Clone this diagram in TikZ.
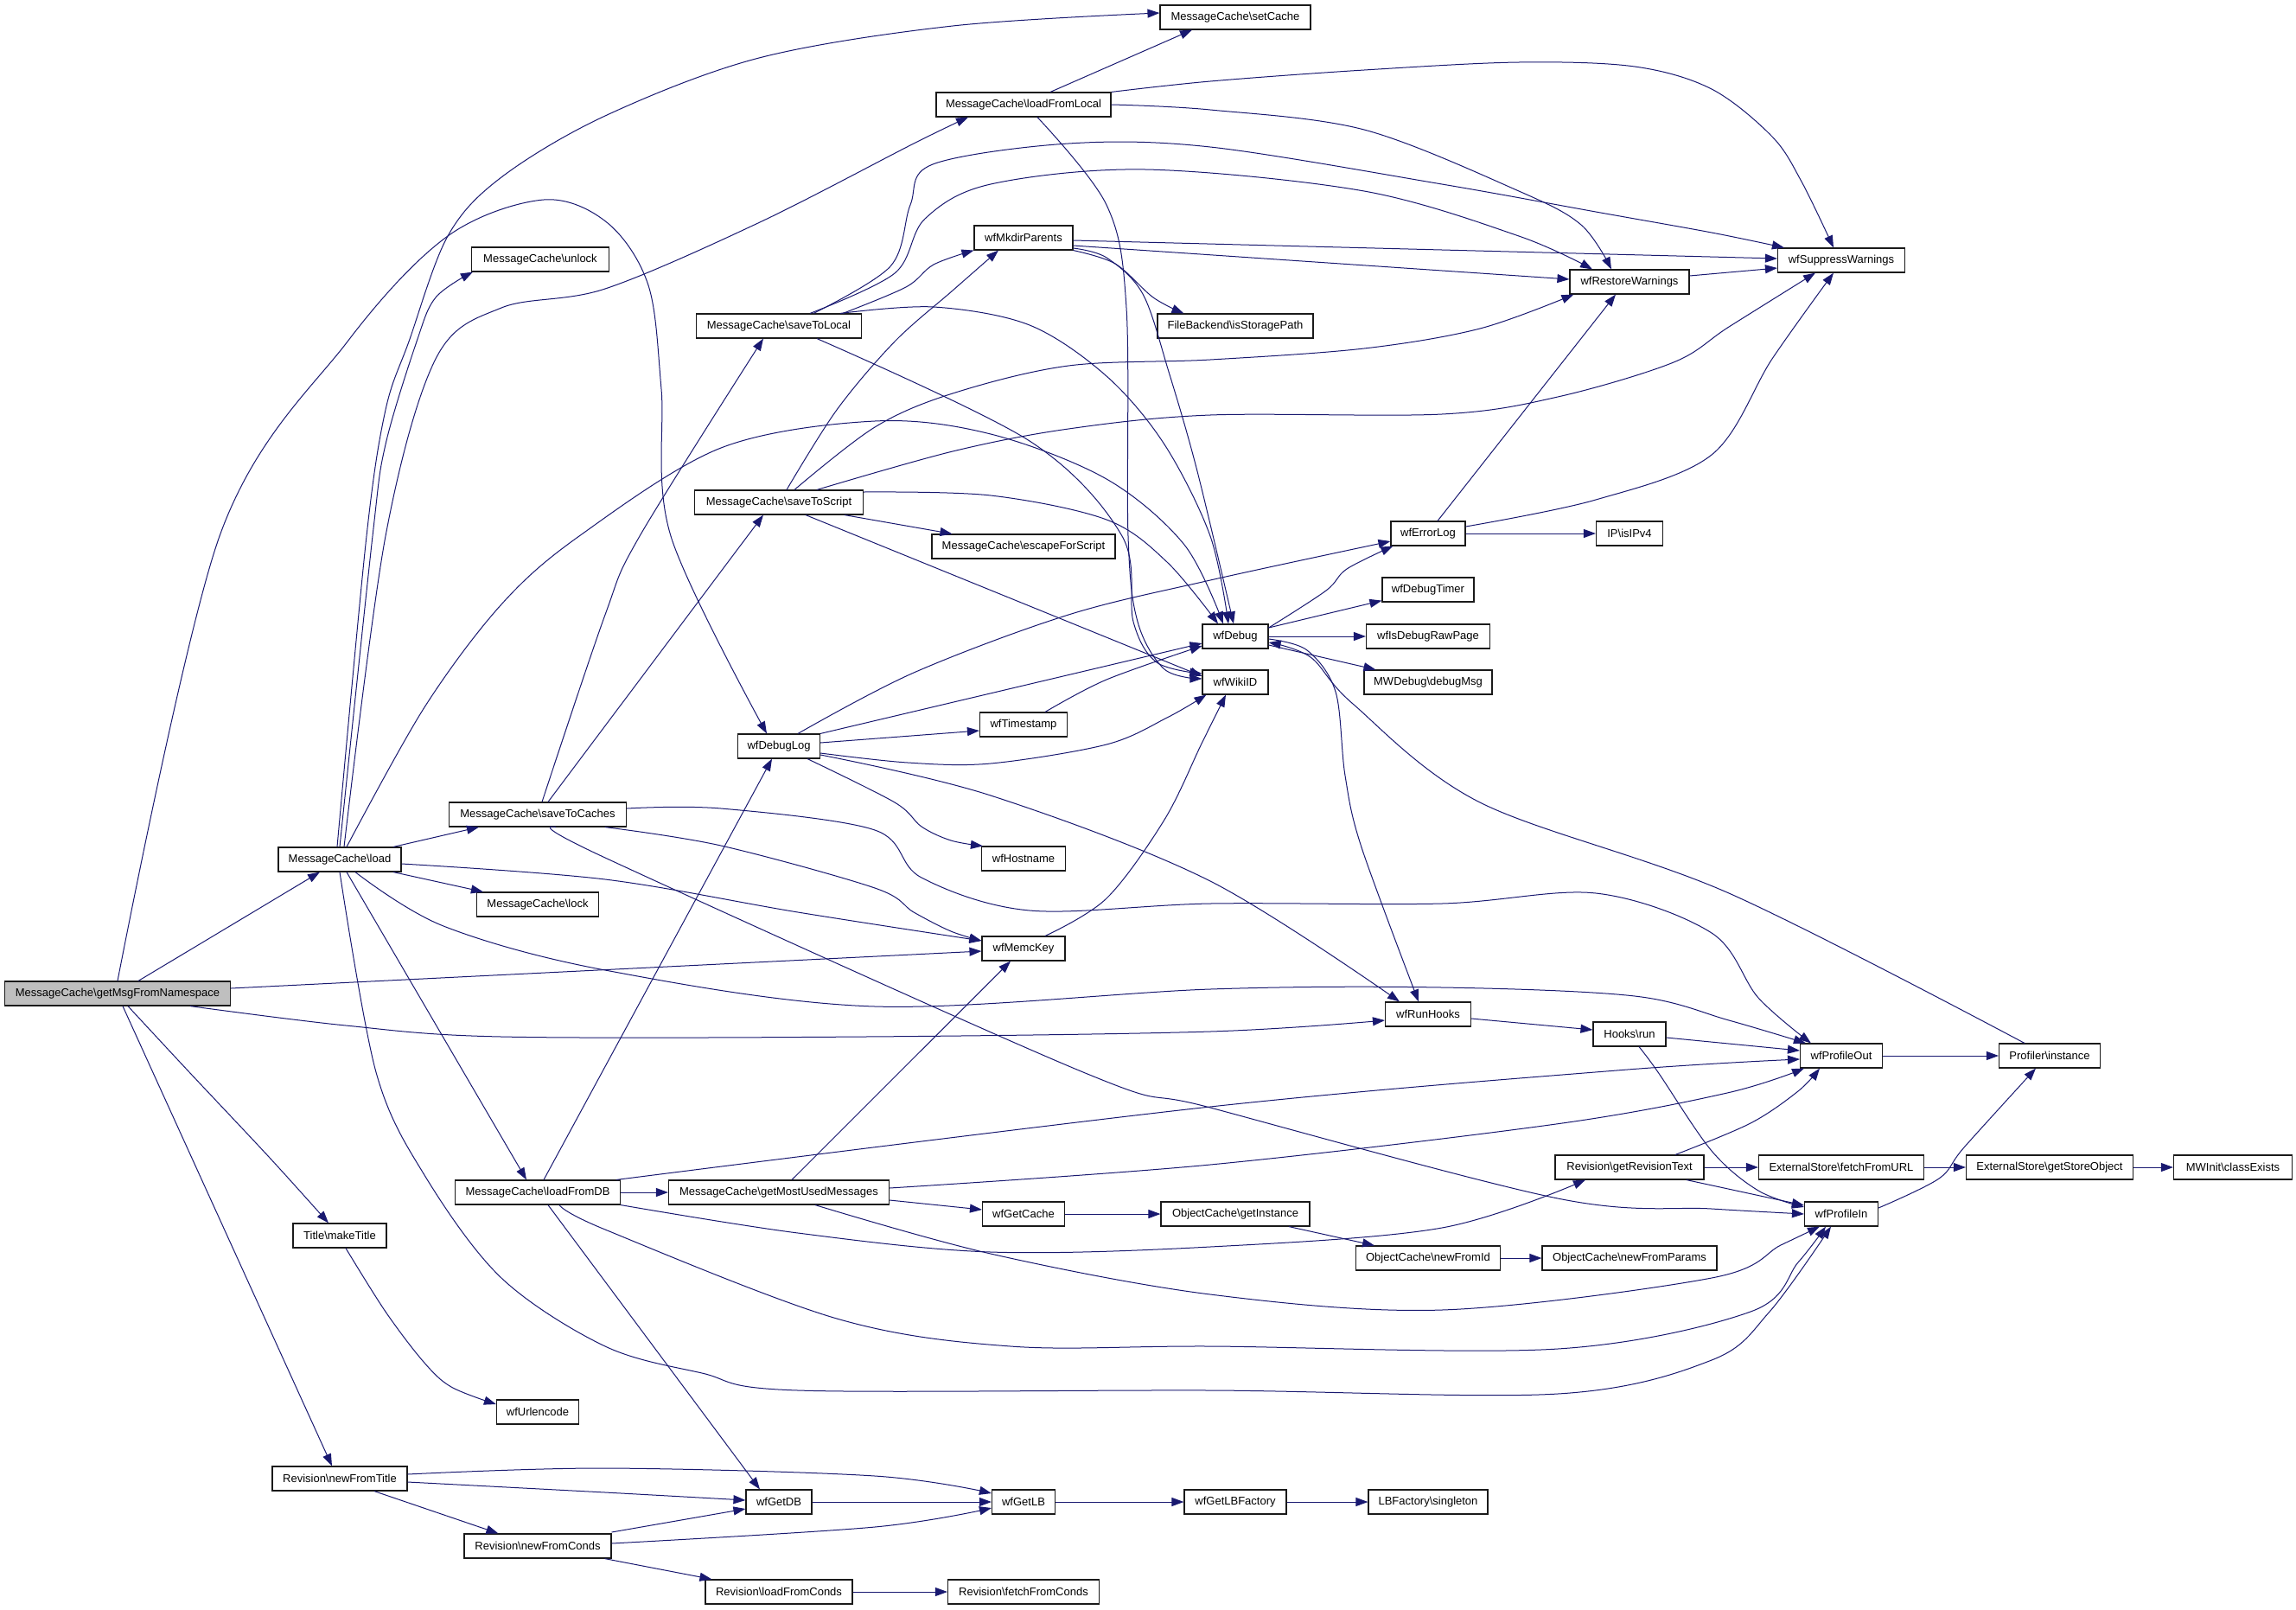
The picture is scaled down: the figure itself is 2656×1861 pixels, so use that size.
\documentclass[tikz,border=0pt]{standalone}
\usepackage{fontspec}
\setmainfont{Liberation Sans}
\usetikzlibrary{arrows.meta}
\definecolor{edgec}{HTML}{191970}
\definecolor{boxc}{HTML}{1A1A1A}
\begin{document}
\begin{tikzpicture}[x=1pt,y=-1pt,
 nd/.style={draw=boxc,line width=1.15pt,minimum height=28pt,inner sep=0pt,fill=white,font=\fontsize{13}{15}\selectfont},
 cg/.style={draw=edgec,line width=1pt,-{Triangle[length=14pt,width=10pt]}},
 sm/.style={smooth,tension=0.55}]
\useasboundingbox (0,0) rectangle (2656,1861);
% nodes
\node[nd,minimum width=261pt,fill=gray!50] (G) at (136,1149) {MessageCache\textbackslash getMsgFromNamespace};
\node[nd,minimum width=142pt] (L) at (393,994) {MessageCache\textbackslash load};
\node[nd,minimum width=159pt] (UL) at (625,300) {MessageCache\textbackslash unlock};
\node[nd,minimum width=205pt] (SC) at (622,942) {MessageCache\textbackslash saveToCaches};
\node[nd,minimum width=141pt] (LK) at (622,1046) {MessageCache\textbackslash lock};
\node[nd,minimum width=191pt] (DB) at (622,1379) {MessageCache\textbackslash loadFromDB};
\node[nd,minimum width=108pt] (MT) at (393,1429) {Title\textbackslash makeTitle};
\node[nd,minimum width=95pt] (UE) at (622,1633) {wfUrlencode};
\node[nd,minimum width=156pt] (NT) at (393,1710) {Revision\textbackslash newFromTitle};
\node[nd,minimum width=170pt] (NC) at (622,1788) {Revision\textbackslash newFromConds};
\node[nd,minimum width=202pt] (LFL) at (1184,121) {MessageCache\textbackslash loadFromLocal};
\node[nd,minimum width=174pt] (SET) at (1429,20) {MessageCache\textbackslash setCache};
\node[nd,minimum width=191pt] (STL) at (901,377) {MessageCache\textbackslash saveToLocal};
\node[nd,minimum width=195pt] (SS) at (901,581) {MessageCache\textbackslash saveToScript};
\node[nd,minimum width=95pt] (DL) at (901,863) {wfDebugLog};
\node[nd,minimum width=255pt] (GMU) at (901,1379) {MessageCache\textbackslash getMostUsedMessages};
\node[nd,minimum width=76pt] (GDB) at (901,1737) {wfGetDB};
\node[nd,minimum width=170pt] (LFC) at (901,1841) {Revision\textbackslash loadFromConds};
\node[nd,minimum width=114pt] (MK) at (1184,275) {wfMkdirParents};
\node[nd,minimum width=212pt] (ESC) at (1184,632) {MessageCache\textbackslash escapeForScript};
\node[nd,minimum width=101pt] (TS) at (1184,838) {wfTimestamp};
\node[nd,minimum width=97pt] (HN) at (1184,993) {wfHostname};
\node[nd,minimum width=96pt] (MC) at (1184,1097) {wfMemcKey};
\node[nd,minimum width=95pt] (GC) at (1184,1404) {wfGetCache};
\node[nd,minimum width=73pt] (GLB) at (1184,1737) {wfGetLB};
\node[nd,minimum width=175pt] (FFC) at (1184,1841) {Revision\textbackslash fetchFromConds};
\node[nd,minimum width=180pt] (ISP) at (1429,377) {FileBackend\textbackslash isStoragePath};
\node[nd,minimum width=76pt] (D) at (1429,736) {wfDebug};
\node[nd,minimum width=76pt] (WID) at (1429,789) {wfWikiID};
\node[nd,minimum width=172pt] (GI) at (1429,1404) {ObjectCache\textbackslash getInstance};
\node[nd,minimum width=118pt] (GLBF) at (1429,1737) {wfGetLBFactory};
\node[nd,minimum width=86pt] (EL) at (1652,617) {wfErrorLog};
\node[nd,minimum width=106pt] (DT) at (1652,682) {wfDebugTimer};
\node[nd,minimum width=143pt] (IDRP) at (1652,736) {wfIsDebugRawPage};
\node[nd,minimum width=148pt] (DM) at (1652,789) {MWDebug\textbackslash debugMsg};
\node[nd,minimum width=99pt] (RH) at (1652,1173) {wfRunHooks};
\node[nd,minimum width=167pt] (NFI) at (1652,1455) {ObjectCache\textbackslash newFromId};
\node[nd,minimum width=138pt] (SGL) at (1652,1737) {LBFactory\textbackslash singleton};
\node[nd,minimum width=138pt] (RW) at (1885,326) {wfRestoreWarnings};
\node[nd,minimum width=77pt] (IP) at (1885,617) {IP\textbackslash isIPv4};
\node[nd,minimum width=84pt] (HR) at (1885,1196) {Hooks\textbackslash run};
\node[nd,minimum width=172pt] (GRT) at (1885,1350) {Revision\textbackslash getRevisionText};
\node[nd,minimum width=202pt] (NFP) at (1885,1455) {ObjectCache\textbackslash newFromParams};
\node[nd,minimum width=147pt] (SW) at (2130,301) {wfSuppressWarnings};
\node[nd,minimum width=95pt] (PO) at (2130,1221) {wfProfileOut};
\node[nd,minimum width=191pt] (FFU) at (2130,1350) {ExternalStore\textbackslash fetchFromURL};
\node[nd,minimum width=85pt] (PI) at (2130,1404) {wfProfileIn};
\node[nd,minimum width=117pt] (PRI) at (2371,1221) {Profiler\textbackslash instance};
\node[nd,minimum width=193pt] (GSO) at (2371,1350) {ExternalStore\textbackslash getStoreObject};
\node[nd,minimum width=137pt] (CE) at (2583,1350) {MWInit\textbackslash classExists};
% edges from getMsgFromNamespace
\draw[cg] ([xshift=24pt]G.north) -- ([xshift=-23pt]L.south);
\draw[cg] plot[sm] coordinates {(G.north) (254,620) (402,395) (518,273) (629,231) (703,258) (750,330) (765,450) (776,620) ([xshift=-14pt]DL.north)};
\draw[cg] ([yshift=6pt]G.east) -- ([yshift=-3pt]MC.west);
\draw[cg] plot[sm] coordinates {([xshift=84pt]G.south) (400,1186) (580,1199) (1000,1199) (1400,1193) ([yshift=-7pt]RH.west)};
\draw[cg] plot[sm] coordinates {([xshift=12pt]G.south) (219,1240) (312,1339) ([xshift=-13pt]MT.north)};
\draw[cg] ([xshift=6pt]G.south) -- ([xshift=-9pt]NT.north);
% edges from load
\draw[cg] plot[sm] coordinates {([xshift=-3pt]L.north) (424,620) (446,474) (473,395) (518,273) (580,205) (700,134) (878,67) (1102,30) ([yshift=5pt]SET.west)};
\draw[cg] plot[sm] coordinates {(L.north) (431,620) (446,514) (482,395) (504,344) ([xshift=2pt]UL.south west)};
\draw[cg] plot[sm] coordinates {([xshift=5pt]L.north) (446,620) (504,415) (580,356) (700,334) (879,257) (1057,166) ([xshift=-64pt]LFL.south)};
\draw[cg] plot[sm] coordinates {([xshift=8pt]L.north) (491,818) (580,699) (670,620) (834,518) (1012,487) (1146,502) (1280,554) (1370,630) ([xshift=-14pt]D.north)};
\draw[cg] ([xshift=62pt]L.north) -- ([xshift=35pt]SC.south west);
\draw[cg] ([xshift=62pt]L.south) -- ([xshift=8pt]LK.north west);
\draw[cg] plot[sm] coordinates {([yshift=-5pt]L.east) (700,1017) (923,1055) ([yshift=9pt]MC.west)};
\draw[cg] plot[sm] coordinates {([xshift=18pt]L.south) (513,1071) (700,1122) (1012,1164) (1400,1144) (1668,1142) (1891,1152) (2000,1180) ([xshift=7pt]PO.north west)};
\draw[cg] ([xshift=8pt]L.south) -- ([xshift=-13pt]DB.north);
\draw[cg] plot[sm] coordinates {(L.south) (435,1240) (491,1359) (580,1478) (700,1557) (812,1588) (923,1608) (1400,1608) (1802,1612) (1980,1573) (2047,1517) ([xshift=-12pt]PI.south)};
% edges from saveToCaches
\draw[cg] plot[sm] coordinates {([xshift=5pt]SC.north) (700,711) (740,620) ([xshift=-18pt]STL.south)};
\draw[cg] ([xshift=12pt]SC.north) -- ([xshift=-18pt]SS.south);
\draw[cg] plot[sm] coordinates {([xshift=78pt]SC.south) (834,978) (1012,1027) (1057,1055) (1100,1077) ([yshift=9pt]MC.west)};
\draw[cg] plot[sm] coordinates {([yshift=7pt]SC.east) (834,935) (1012,960) (1066,1015) (1191,1053) (1400,1045) (1668,1045) (1846,1033) (1980,1079) (2034,1154) ([xshift=13pt]PO.north west)};
\draw[cg] plot[sm] coordinates {([xshift=21pt]SC.south) (700,992) (1253,1240) (1400,1281) (1802,1386) (1980,1398) (PI.west)};
% edges from saveToLocal
\draw[cg] plot[sm] coordinates {([xshift=74pt]STL.north) (1048,332) (1080,306) (MK.south west)};
\draw[cg] plot[sm] coordinates {([xshift=40pt]STL.north) (1030,308) (1053,237) (1079,190) (1236,166) (1400,170) (1668,213) (1846,245) (1980,269) ([xshift=8pt]SW.north west)};
\draw[cg] plot[sm] coordinates {([xshift=36pt]STL.north) (1035,316) (1070,253) (1146,213) (1325,196) (1578,221) (1757,273) ([xshift=-43pt]RW.north)};
\draw[cg] plot[sm] coordinates {([xshift=71pt]STL.north) (1080,355) (1191,376) (1280,435) (1347,514) (1400,620) ([xshift=-8pt]D.north)};
\draw[cg] plot[sm] coordinates {([xshift=44pt]STL.south) (1191,510) (1298,620) (1311,719) (1338,766) ([yshift=10pt]WID.west)};
% edges from loadFromLocal
\draw[cg] ([xshift=31pt]LFL.north) -- ([xshift=-50pt]SET.south);
\draw[cg] plot[sm] coordinates {(LFL.north east) (1400,94) (1578,81) (1757,72) (1891,77) (1980,103) (2050,158) (2084,210) ([xshift=-9pt]SW.north)};
\draw[cg] plot[sm] coordinates {(LFL.east) (1400,127) (1578,150) (1757,221) (1829,260) ([xshift=-21pt]RW.north)};
\draw[cg] plot[sm] coordinates {([xshift=16pt]LFL.south) (1280,237) (1303,356) (1305,620) (1316,719) (1347,774) ([yshift=4pt]WID.west)};
% edges from wfMkdirParents
\draw[cg] ([yshift=-3pt]MK.east) -- ([yshift=2pt]SW.west);
\draw[cg] ([yshift=-9pt]MK.east) -- ([yshift=3pt]RW.west);
\draw[cg] plot[sm] coordinates {(MK.south east) (1290,305) (1334,344) ([xshift=31pt]ISP.north west)};
\draw[cg] plot[sm] coordinates {([yshift=-12pt]MK.east) (1280,298) (1322,340) (1352,430) (1385,545) ([xshift=-2pt]D.north)};
% edges from saveToScript
\draw[cg] plot[sm] coordinates {([xshift=9pt]SS.north) (968,474) (1035,395) (1102,336) ([xshift=-29pt]MK.south)};
\draw[cg] plot[sm] coordinates {([xshift=18pt]SS.north) (1012,494) (1102,455) (1236,423) (1400,416) (1578,403) (1712,380) ([xshift=5pt]RW.south west)};
\draw[cg] plot[sm] coordinates {([xshift=44pt]SS.north) (1102,522) (1236,496) (1400,480) (1668,479) (1802,459) (1936,419) (2000,378) ([xshift=-30pt]SW.south)};
\draw[cg] ([xshift=76pt]SS.south) -- ([xshift=24pt]ESC.north west);
\draw[cg] plot[sm] coordinates {([yshift=12pt]SS.east) (1146,573) (1280,601) (1350,650) ([xshift=-20pt]D.north)};
\draw[cg] ([xshift=31pt]SS.south) -- ([yshift=7pt]WID.west);
% edges from wfDebugLog
\draw[cg] plot[sm] coordinates {([xshift=22pt]DL.north) (1057,778) (1236,711) (1400,671) ([yshift=-9pt]EL.west)};
\draw[cg] (DL.north east) -- ([yshift=-8pt]D.west);
\draw[cg] ([yshift=4pt]DL.east) -- ([yshift=-7pt]TS.west);
\draw[cg] plot[sm] coordinates {([yshift=-8pt]DL.east) (1050,882) (1146,883) (1280,861) (1350,830) ([xshift=5pt]WID.south west)};
\draw[cg] plot[sm] coordinates {([xshift=33pt]DL.south) (1035,928) (1066,956) (1100,972) ([xshift=2pt]HN.north west)};
\draw[cg] plot[sm] coordinates {([yshift=-10pt]DL.east) (1146,920) (1400,1019) ([xshift=-33pt]RH.north)};
\draw[cg] plot[sm] coordinates {([xshift=25pt]TS.north) (1280,786) ([yshift=-11pt]D.west)};
\draw[cg] plot[sm] coordinates {([xshift=25pt]MC.north) (1280,1039) (1347,948) (1390,860) ([xshift=-11pt]WID.south)};
% edges from wfDebug
\draw[cg] plot[sm] coordinates {([yshift=10pt]D.east) (1534,683) (1558,658) ([xshift=3pt]EL.south west)};
\draw[cg] ([yshift=10pt]D.east) -- ([yshift=2pt]DT.south west);
\draw[cg] (D.east) -- (IDRP.west);
\draw[cg] ([yshift=-10pt]D.east) -- ([xshift=14pt]DM.north west);
\draw[cg] plot[sm] coordinates {([yshift=-3pt]D.east) (1512,752) (1545,800) (1556,897) (1575,980) ([xshift=-11pt]RH.north)};
% wfErrorLog, wfRestoreWarnings
\draw[cg] ([xshift=11pt]EL.north) -- ([xshift=-16pt]RW.south);
\draw[cg] plot[sm] coordinates {([yshift=8pt]EL.east) (1846,578) (1980,526) (2050,415) ([xshift=-9pt]SW.south)};
\draw[cg] (EL.east) -- (IP.west);
\draw[cg] ([yshift=7pt]RW.east) -- ([yshift=-9pt]SW.west);
% hooks, profiling
\draw[cg] ([yshift=-5pt]RH.east) -- ([yshift=5pt]HR.west);
\draw[cg] ([yshift=-4pt]HR.east) -- ([yshift=6pt]PO.west);
\draw[cg] plot[sm] coordinates {([xshift=11pt]HR.south) (1918,1240) (1980,1331) (2034,1377) ([yshift=8pt]PI.west)};
\draw[cg] (PO.east) -- (PRI.west);
\draw[cg] plot[sm] coordinates {([yshift=7pt]PI.east) (2243,1363) (2272,1327) ([xshift=-16pt]PRI.south)};
\draw[cg] plot[sm] coordinates {([xshift=-29pt]PRI.north) (2000,1033) (1712,928) (1565,814) (1516,760) ([yshift=-7pt]D.east)};
% edges from loadFromDB
\draw[cg] (DB.east) -- (GMU.west);
\draw[cg] ([xshift=7pt]DB.north) -- ([xshift=-8pt]DL.south);
\draw[cg] ([xshift=12pt]DB.south) -- ([xshift=-22pt]GDB.north);
\draw[cg] plot[sm] coordinates {([xshift=-5pt]DB.north east) (1400,1280) (1870,1238) ([yshift=-4pt]PO.west)};
\draw[cg] plot[sm] coordinates {(DB.south east) (923,1426) (1146,1448) (1400,1442) (1668,1420) ([xshift=-51pt]GRT.south)};
\draw[cg] plot[sm] coordinates {([xshift=25pt]DB.south) (700,1422) (968,1525) (1169,1557) (1400,1557) (1802,1560) (2025,1517) (2080,1460) ([xshift=-18pt]PI.south)};
% edges from getMostUsedMessages
\draw[cg] ([xshift=15pt]GMU.north) -- ([xshift=-15pt]MC.south);
\draw[cg] plot[sm] coordinates {([yshift=5pt]GMU.east) (1400,1347) (1800,1300) (1998,1264) ([xshift=-43pt]PO.south)};
\draw[cg] ([yshift=-9pt]GMU.east) -- ([yshift=5pt]GC.west);
\draw[cg] plot[sm] coordinates {([xshift=42pt]GMU.south) (1146,1450) (1400,1497) (1668,1515) (1980,1478) (2060,1440) ([xshift=-25pt]PI.south)};
\draw[cg] (GC.east) -- (GI.west);
\draw[cg] ([xshift=62pt]GI.south) -- ([xshift=-62pt]NFI.north);
\draw[cg] (NFI.east) -- (NFP.west);
% getRevisionText
\draw[cg] (GRT.east) -- (FFU.west);
\draw[cg] plot[sm] coordinates {([xshift=53pt]GRT.north) (2025,1299) (2080,1262) ([xshift=-25pt]PO.south)};
\draw[cg] ([xshift=66pt]GRT.south) -- ([yshift=10pt]PI.west);
\draw[cg] (FFU.east) -- (GSO.west);
\draw[cg] (GSO.east) -- (CE.west);
% revision / LB
\draw[cg] plot[sm] coordinates {([yshift=5pt]NT.east) (700,1698) (1012,1707) ([yshift=10pt]GLB.west)};
\draw[cg] plot[sm] coordinates {([yshift=-4pt]NT.east) (700,1726) ([yshift=2pt]GDB.west)};
\draw[cg] ([xshift=40pt]NT.south) -- ([xshift=40pt]NC.north west);
\draw[cg] ([yshift=16pt]NC.east) -- ([yshift=-8pt]GDB.west);
\draw[cg] plot[sm] coordinates {([yshift=3pt]NC.east) (1012,1766) ([yshift=-7pt]GLB.west)};
\draw[cg] ([xshift=-8pt]NC.south east) -- ([xshift=8pt]LFC.north west);
\draw[cg] (LFC.east) -- (FFC.west);
\draw[cg] (GDB.east) -- (GLB.west);
\draw[cg] (GLB.east) -- (GLBF.west);
\draw[cg] (GLBF.east) -- (SGL.west);
\draw[cg] plot[sm] coordinates {([xshift=7pt]MT.south) (446,1517) (490,1575) (522,1604) ([yshift=9pt]UE.west)};
\end{tikzpicture}
\end{document}
